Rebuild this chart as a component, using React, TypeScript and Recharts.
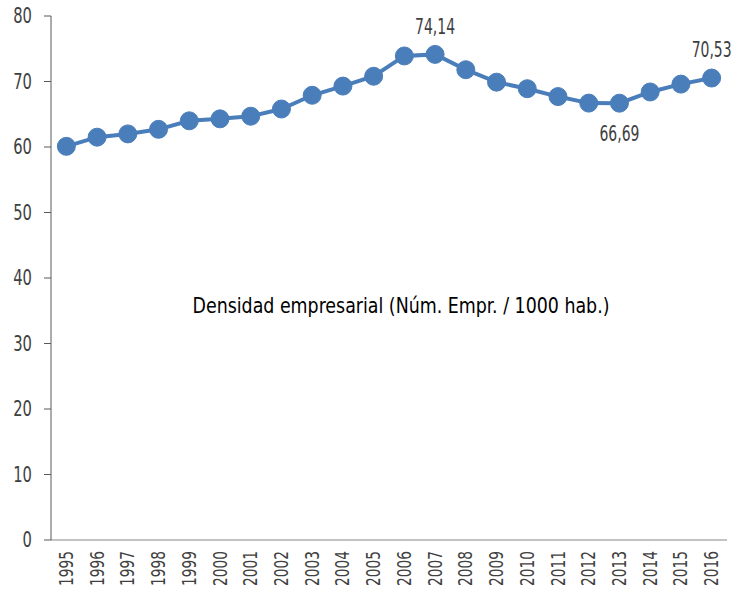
import React from 'react';
import { LineChart, Line, XAxis, YAxis, LabelList } from 'recharts';

const years = ['1995','1996','1997','1998','1999','2000','2001','2002','2003','2004','2005','2006','2007','2008','2009','2010','2011','2012','2013','2014','2015','2016'];
const density = [60.1,61.5,62.0,62.7,64.0,64.3,64.7,65.8,67.9,69.3,70.8,73.9,74.14,71.8,69.9,68.9,67.7,66.7,66.69,68.4,69.6,70.53];
const yTicks = [0,10,20,30,40,50,60,70,80];
const labelledYears = ['2007','2013','2016'];
const labelBelowYears = ['2013'];
const chartTitle = 'Densidad empresarial (Núm. Empr. / 1000 hab.)';

const data = years.map((y, i) => ({ year: y, value: density[i] }));

const FONT = "'DejaVu Sans Condensed', 'Liberation Sans Narrow', sans-serif";
const BLUE = '#4A7EBB';

const XTick = (props: any) => {
  const { x, payload } = props;
  return (
    <g transform={`translate(${x},${551}) rotate(-90) scale(0.9,1.1)`}>
      <text textAnchor="end" dominantBaseline="central" fontFamily={FONT} fontSize={17} fill="#404040">
        {payload.value}
      </text>
    </g>
  );
};

const YTick = (props: any) => {
  const { x, y, payload } = props;
  return (
    <g transform={`translate(${x},${y}) scale(0.78,1)`}>
      <text textAnchor="end" dominantBaseline="central" fontFamily={FONT} fontSize={21} fill="#404040">
        {payload.value}
      </text>
    </g>
  );
};

const PointLabel = (props: any) => {
  const { x, y, index, value } = props;
  const yr = years[index];
  if (!labelledYears.includes(yr)) return null;
  const below = labelBelowYears.includes(yr);
  const ty = below ? y + 30 : y - 28;
  return (
    <g transform={`translate(${x},${ty}) scale(0.74,1)`}>
      <text textAnchor="middle" dominantBaseline="central" fontFamily={FONT} fontSize={21} fill="#404040">
        {String(value).replace('.', ',')}
      </text>
    </g>
  );
};

export default function App() {
  return (
    <div style={{ position: 'absolute', left: 0, top: 0, width: 732, height: 589, background: '#fff' }}>
      <LineChart width={732} height={589} data={data} margin={{ top: 16, right: 5, bottom: 0, left: 0 }}>
        <XAxis
          dataKey="year"
          scale="band"
          height={49}
          tickLine={false}
          axisLine={{ stroke: '#868686', strokeWidth: 1 }}
          tick={<XTick />}
          interval={0}
        />
        <YAxis
          domain={[0, 80]}
          ticks={yTicks}
          width={51}
          tickSize={7}
          tickMargin={12}
          axisLine={{ stroke: '#595959', strokeWidth: 1 }}
          tickLine={{ stroke: '#595959' }}
          tick={<YTick />}
          interval={0}
        />
        <Line
          type="linear"
          dataKey="value"
          stroke={BLUE}
          strokeWidth={4}
          dot={{ r: 9, fill: BLUE, stroke: BLUE, strokeWidth: 1 }}
          isAnimationActive={false}
        >
          <LabelList dataKey="value" content={<PointLabel />} />
        </Line>
      </LineChart>
      <svg width={732} height={589} style={{ position: 'absolute', left: 0, top: 0, pointerEvents: 'none' }}>
        <text x={401} y={306} textAnchor="middle" dominantBaseline="central" fontFamily={FONT} fontSize={21} fill="#000" textLength={417} lengthAdjust="spacingAndGlyphs">
          {chartTitle}
        </text>
      </svg>
    </div>
  );
}
